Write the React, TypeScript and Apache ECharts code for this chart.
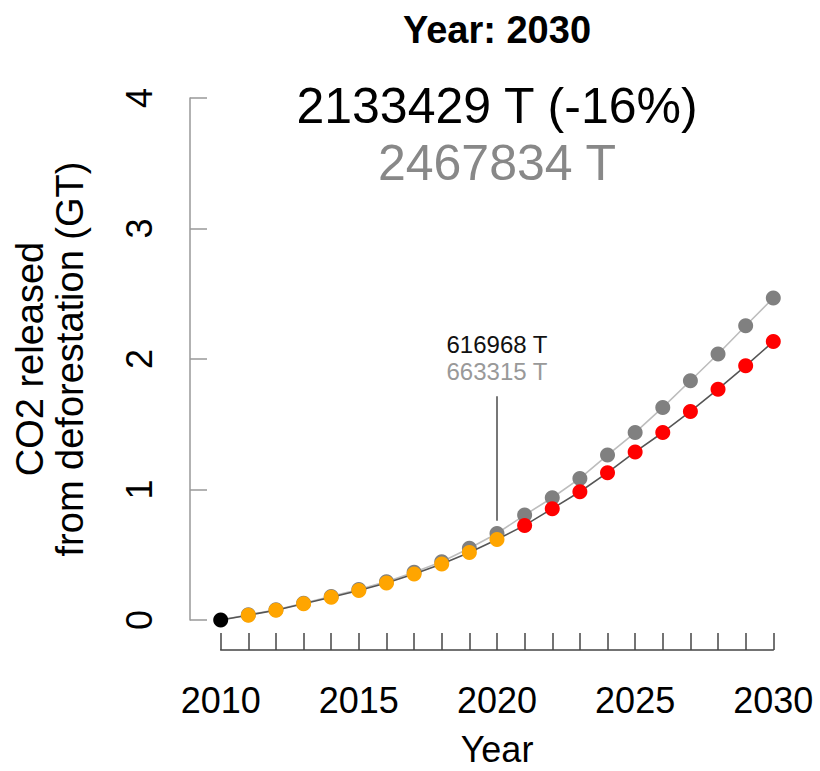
import React, { useEffect, useRef } from "react";
import * as echarts from "echarts";

// Years on the horizontal axis
const years = [
  2010, 2011, 2012, 2013, 2014, 2015, 2016, 2017, 2018, 2019, 2020,
  2021, 2022, 2023, 2024, 2025, 2026, 2027, 2028, 2029, 2030,
];

// Cumulative CO2 released, business-as-usual path (GT)
const baseline = [
  0, 0.04, 0.079, 0.129, 0.181, 0.234, 0.294, 0.366, 0.447, 0.55, 0.663315,
  0.804, 0.937, 1.085, 1.264, 1.436, 1.629, 1.833, 2.038, 2.255, 2.467834,
];

// Cumulative CO2 released, scenario path (GT)
const scenario = [
  0, 0.037, 0.075, 0.124, 0.175, 0.226, 0.284, 0.353, 0.43, 0.517, 0.616968,
  0.725, 0.853, 0.983, 1.129, 1.288, 1.437, 1.598, 1.769, 1.948, 2.133429,
];

const yTicks = [0, 1, 2, 3, 4];
const startYear = 2010;
const splitYear = 2020;
const endYear = 2030;
const percentChange = "-16%";

const FONT = "'Liberation Sans', Arial, Helvetica, sans-serif";

const tonnes = (gt: number) => `${Math.round(gt * 1e6)} T`;

export default function App() {
  const ref = useRef<HTMLDivElement>(null);

  useEffect(() => {
    if (!ref.current) return;
    const chart = echarts.init(ref.current, undefined, { renderer: "svg" });

    const pts = (vals: number[], from: number, to: number) =>
      years
        .map((y, i) => [y, vals[i]] as [number, number])
        .filter(([y]) => y >= from && y <= to);

    const splitIdx = years.indexOf(splitYear);
    const endIdx = years.indexOf(endYear);

    chart.setOption({
      animation: false,
      textStyle: { fontFamily: FONT },
      grid: {
        left: 220.7,
        right: 46.7,
        top: 98,
        bottom: 151,
        containLabel: false,
        outerBoundsMode: "none",
      },
      xAxis: {
        type: "value",
        min: startYear,
        max: endYear,
        interval: 1,
        offset: 30,
        splitLine: { show: false },
        axisLine: { show: true, onZero: false, lineStyle: { color: "#444", width: 1.5 } },
        axisTick: { show: true, inside: true, length: 17, lineStyle: { color: "#444", width: 1.5 } },
        axisLabel: {
          fontSize: 36,
          color: "#000",
          fontFamily: FONT,
          margin: 32,
          formatter: (v: number) => (v % 5 === 0 ? String(v) : ""),
        },
        name: "Year",
        nameLocation: "middle",
        nameGap: 84,
        nameTextStyle: { fontSize: 36, lineHeight: 30, color: "#000", fontFamily: FONT },
      },
      yAxis: {
        type: "value",
        min: yTicks[0],
        max: yTicks[yTicks.length - 1],
        interval: 1,
        offset: 30.7,
        splitLine: { show: false },
        axisLine: { show: true, onZero: false, lineStyle: { color: "#999", width: 1.5 } },
        axisTick: { show: true, inside: true, length: 17, lineStyle: { color: "#999", width: 1.5 } },
        axisLabel: {
          fontSize: 36,
          color: "#000",
          fontFamily: FONT,
          rotate: 90,
          margin: 33,
        },
        name: "CO2 released\nfrom deforestation (GT)",
        nameLocation: "middle",
        nameRotate: 90,
        nameGap: 100,
        nameTextStyle: { fontSize: 38, lineHeight: 40, color: "#000", fontFamily: FONT },
      },
      series: [
        {
          type: "line",
          data: pts(baseline, startYear, endYear),
          showSymbol: false,
          lineStyle: { color: "#bdbdbd", width: 1.6 },
          z: 1,
          silent: true,
        },
        {
          type: "scatter",
          data: pts(baseline, startYear + 1, endYear),
          symbolSize: 15,
          itemStyle: { color: "#808080", opacity: 1 },
          z: 2,
          silent: true,
        },
        {
          type: "line",
          data: pts(scenario, startYear, endYear),
          showSymbol: false,
          lineStyle: { color: "#555", width: 1.6 },
          z: 3,
          silent: true,
          markLine: {
            silent: true,
            symbol: "none",
            label: { show: false },
            lineStyle: { color: "#555", width: 1.6, type: "solid" },
            data: [[{ coord: [splitYear, 0.76] }, { coord: [splitYear, 1.715] }]],
          },
        },
        {
          type: "scatter",
          data: pts(scenario, startYear + 1, splitYear),
          symbolSize: 15,
          itemStyle: { color: "#ffa500", opacity: 1 },
          z: 4,
          silent: true,
        },
        {
          type: "scatter",
          data: pts(scenario, splitYear + 1, endYear),
          symbolSize: 15,
          itemStyle: { color: "#ff0000", opacity: 1 },
          z: 4,
          silent: true,
        },
        {
          type: "scatter",
          data: pts(scenario, startYear, startYear),
          symbolSize: 15,
          itemStyle: { color: "#000", opacity: 1 },
          z: 5,
          silent: true,
        },
      ],
    });

    // Headline and annotation texts placed relative to the axes
    const [midX] = chart.convertToPixel({ gridIndex: 0 }, [(startYear + endYear) / 2, 0]) as number[];
    const [annX, annTop] = chart.convertToPixel({ gridIndex: 0 }, [splitYear, 1.715]) as number[];

    const txt = (text: string, x: number, y: number, size: number, fill: string, bold = false) => ({
      type: "text",
      x,
      y,
      silent: true,
      style: {
        text,
        fill,
        font: `${bold ? "bold " : ""}${size}px ${FONT}`,
        textAlign: "center",
        textVerticalAlign: "middle",
      },
    });

    chart.setOption({
      graphic: [
        txt(`Year: ${endYear}`, midX, 30, 38, "#000", true),
        txt(`${tonnes(scenario[endIdx])} (${percentChange})`, midX, 106, 50, "#000"),
        txt(tonnes(baseline[endIdx]), midX, 163, 50, "#888"),
        txt(tonnes(scenario[splitIdx]), annX, annTop - 52, 24, "#111"),
        txt(tonnes(baseline[splitIdx]), annX, annTop - 25, 24, "#999"),
      ],
    });

    return () => chart.dispose();
  }, []);

  return (
    <div
      ref={ref}
      style={{ position: "absolute", left: 0, top: 0, width: 820, height: 771, background: "#fff" }}
    />
  );
}
